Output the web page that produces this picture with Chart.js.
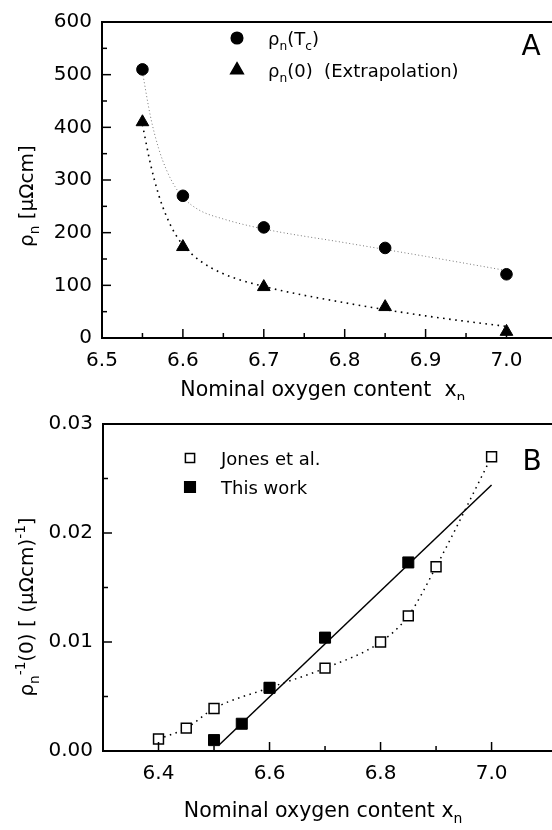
<!DOCTYPE html>
<html>
<head>
<meta charset="utf-8">
<script src="https://cdn.jsdelivr.net/npm/chart.js@4"></script>
<style>
  body { margin: 0; background: #fff; }
  canvas { position: absolute; left: 0; }
</style>
</head>
<body>
<canvas id="chartA" width="552" height="400" style="top:0"></canvas>
<canvas id="chartB" width="552" height="430" style="top:400px"></canvas>
<script>
const FONT = '"DejaVu Sans", sans-serif';

// panel A
const xA = [6.55, 6.6, 6.7, 6.85, 7.0];
const rhoTc = [510, 270, 210, 171, 121];
const rho0 = [410, 173, 97, 59, 12];
const fitX = [6.55, 6.56, 6.57, 6.58, 6.59, 6.6, 6.62, 6.65, 6.7, 6.8, 6.9, 7.0];
const fitTc = [505, 420, 360, 318, 288, 267, 243, 226, 207, 181, 155, 128];
const fit0 = [405, 330, 272, 230, 199, 177, 148, 122, 98, 67, 42, 22];
const xTicksA = [6.5, 6.6, 6.7, 6.8, 6.9, 7.0];
const xMinorA = [6.55, 6.65, 6.75, 6.85, 6.95];
const yTicksA = [0, 100, 200, 300, 400, 500, 600];
const yMinorA = [50, 150, 250, 350, 450, 550];

// panel B
const xJones = [6.4, 6.45, 6.5, 6.6, 6.7, 6.8, 6.85, 6.9, 7.0];
const jones = [0.0011, 0.0021, 0.0039, 0.0058, 0.0076, 0.0100, 0.0124, 0.0169, 0.0270];
const xThis = [6.5, 6.55, 6.6, 6.7, 6.85];
const thisWork = [0.0010, 0.0025, 0.0058, 0.0104, 0.0173];
const lineX = [6.51, 7.0];
const lineY = [0.0006, 0.0244];
const xTicksB = [6.4, 6.6, 6.8, 7.0];
const xMinorB = [6.5, 6.7, 6.9];
const yTicksB = [0, 0.01, 0.02, 0.03];
const yMinorB = [0.005, 0.015, 0.025];

const pts = (xs, ys) => xs.map((x, i) => ({ x: x, y: ys[i] }));

// text with sub/superscripts: parts = [[text, 'sub'|'sup'|undefined], ...]
function drawRich(ctx, parts, x, y, size, align) {
  const seg = parts.map(p => {
    const s = p[1] ? size * 0.68 : size;
    ctx.font = s + 'px ' + FONT;
    return { t: p[0], s: s, w: ctx.measureText(p[0]).width, dy: p[1] == 'sub' ? size * 0.28 : p[1] == 'sup' ? -size * 0.42 : 0 };
  });
  const total = seg.reduce((a, b) => a + b.w, 0);
  let cx = align == 'center' ? x - total / 2 : x;
  ctx.textAlign = 'left';
  ctx.textBaseline = 'alphabetic';
  seg.forEach(g => {
    ctx.font = g.s + 'px ' + FONT;
    ctx.fillText(g.t, cx, y + g.dy);
    cx += g.w;
  });
}

function marker(ctx, style, x, y, r, fill) {
  ctx.beginPath();
  if (style == 'circle') ctx.arc(x, y, r, 0, Math.PI * 2);
  else if (style == 'triangle') {
    ctx.moveTo(x, y - r);
    ctx.lineTo(x + r * 0.866, y + r * 0.5);
    ctx.lineTo(x - r * 0.866, y + r * 0.5);
    ctx.closePath();
  } else {
    const h = r * Math.SQRT1_2;
    ctx.rect(x - h, y - h, 2 * h, 2 * h);
  }
  ctx.fillStyle = fill;
  ctx.fill();
  ctx.lineWidth = 1.5;
  ctx.strokeStyle = '#000';
  ctx.stroke();
}

function deco(cfg) {
  return {
    id: 'deco',
    afterDraw(chart) {
      const ctx = chart.ctx, a = chart.chartArea, x = chart.scales.x, y = chart.scales.y;
      ctx.save();
      ctx.strokeStyle = '#000';
      ctx.lineWidth = 2;
      ctx.beginPath();
      ctx.moveTo(chart.width, a.top);
      ctx.lineTo(a.left, a.top);
      ctx.lineTo(a.left, a.bottom);
      ctx.lineTo(chart.width, a.bottom);
      ctx.stroke();

      ctx.lineWidth = 1.5;
      const xt = (vals, len) => vals.forEach(v => {
        const p = x.getPixelForValue(v);
        ctx.beginPath(); ctx.moveTo(p, a.bottom); ctx.lineTo(p, a.bottom - len); ctx.stroke();
      });
      const yt = (vals, len) => vals.forEach(v => {
        const p = y.getPixelForValue(v);
        ctx.beginPath(); ctx.moveTo(a.left, p); ctx.lineTo(a.left + len, p); ctx.stroke();
      });
      xt(cfg.xMajor, 9); xt(cfg.xMinor, 5);
      yt(cfg.yMajor, 9); yt(cfg.yMinor, 5);

      ctx.fillStyle = '#000';
      drawRich(ctx, cfg.xTitle, (a.left + a.right) / 2, cfg.xTitleY, 20.5, 'center');

      ctx.save();
      ctx.translate(cfg.yTitleX, cfg.yTitleY);
      ctx.rotate(-Math.PI / 2);
      ctx.fillStyle = '#000';
      drawRich(ctx, cfg.yTitle, 0, 0, 20, 'center');
      ctx.restore();

      cfg.legend.forEach(l => {
        marker(ctx, l.style, l.mx, l.y, l.r, l.fill);
        ctx.fillStyle = '#000';
        drawRich(ctx, l.text, l.tx, l.y + 7, 18, 'left');
      });

      ctx.fillStyle = '#000';
      ctx.font = '28px ' + FONT;
      ctx.textAlign = 'center';
      ctx.textBaseline = 'alphabetic';
      ctx.fillText(cfg.panel, cfg.panelX, cfg.panelY);
      ctx.restore();
    }
  };
}

function linAxis(min, max, ticks, size, fmt, pad) {
  return {
    type: 'linear', min: min, max: max,
    afterBuildTicks: ax => { ax.ticks = ticks.map(v => ({ value: v })); },
    afterFit: ax => { if (ax.isHorizontal()) ax.height = size; else ax.width = size; },
    grid: { display: false, drawTicks: false },
    border: { display: false },
    ticks: { color: '#000', font: { family: FONT, size: 20 }, padding: pad, autoSkip: false, maxRotation: 0, callback: fmt }
  };
}

const baseOpts = (padTop, xs, ys) => ({
  responsive: false,
  animation: false,
  layout: { padding: { top: padTop, left: 0, right: 0, bottom: 0 } },
  plugins: { legend: { display: false }, tooltip: { enabled: false } },
  scales: { x: xs, y: ys }
});

new Chart(document.getElementById('chartA'), {
  type: 'scatter',
  data: {
    datasets: [
      { data: pts(xA, rhoTc), pointStyle: 'circle', pointRadius: 5.8, backgroundColor: '#000', borderColor: '#000', order: 1 },
      { data: pts(xA, rho0), pointStyle: 'triangle', pointRadius: 7.3, backgroundColor: '#000', borderColor: '#000', order: 1 },
      { data: pts(fitX, fitTc), showLine: true, pointRadius: 0, borderColor: '#777', borderWidth: 1, borderDash: [1, 2.5], cubicInterpolationMode: 'monotone', order: 2 },
      { data: pts(fitX, fit0), showLine: true, pointRadius: 0, borderColor: '#000', borderWidth: 1.6, borderDash: [1.6, 4.5], cubicInterpolationMode: 'monotone', order: 2 }
    ]
  },
  options: baseOpts(15,
    linAxis(6.5, 7.046, xTicksA, 62, v => v.toFixed(1), 11),
    linAxis(0, 600, yTicksA, 102, v => String(v), 10)),
  plugins: [deco({
    xMajor: xTicksA, xMinor: xMinorA, yMajor: yTicksA, yMinor: yMinorA,
    xTitle: [['Nominal oxygen content  x'], ['n', 'sub']], xTitleY: 396,
    yTitle: [['ρ'], ['n', 'sub'], [' [μΩcm]']], yTitleX: 33, yTitleY: 196,
    legend: [
      { style: 'circle', mx: 237, r: 5.8, fill: '#000', tx: 268, y: 38, text: [['ρ'], ['n', 'sub'], ['(T'], ['c', 'sub'], [')']] },
      { style: 'triangle', mx: 237, r: 7.3, fill: '#000', tx: 268, y: 70, text: [['ρ'], ['n', 'sub'], ['(0)  (Extrapolation)']] }
    ],
    panel: 'A', panelX: 531, panelY: 55
  })]
});

new Chart(document.getElementById('chartB'), {
  type: 'scatter',
  data: {
    datasets: [
      { data: pts(xThis, thisWork), pointStyle: 'rect', pointRadius: 7.8, backgroundColor: '#000', borderColor: '#000', order: 1 },
      { data: pts(xJones, jones), pointStyle: 'rect', pointRadius: 7, backgroundColor: '#fff', borderColor: '#000', pointBorderWidth: 1.5,
        showLine: true, borderWidth: 1.5, borderDash: [1.5, 4.5], cubicInterpolationMode: 'monotone', order: 2 },
      { data: pts(lineX, lineY), showLine: true, pointRadius: 0, borderColor: '#000', borderWidth: 1.5, order: 3 }
    ]
  },
  options: baseOpts(24,
    linAxis(6.3, 7.093, xTicksB, 79, v => v.toFixed(1), 11),
    linAxis(0, 0.03, yTicksB, 103, v => v.toFixed(2), 10)),
  plugins: [deco({
    xMajor: xTicksB, xMinor: xMinorB, yMajor: yTicksB, yMinor: yMinorB,
    xTitle: [['Nominal oxygen content x'], ['n', 'sub']], xTitleY: 417,
    yTitle: [['ρ'], ['n', 'sub'], ['-1', 'sup'], ['(0) [ (μΩcm)'], ['-1', 'sup'], [']']], yTitleX: 33, yTitleY: 207,
    legend: [
      { style: 'rect', mx: 190, r: 6.5, fill: '#fff', tx: 221, y: 58, text: [['Jones et al.']] },
      { style: 'rect', mx: 190, r: 7.5, fill: '#000', tx: 221, y: 87, text: [['This work']] }
    ],
    panel: 'B', panelX: 532, panelY: 70
  })]
});
</script>
</body>
</html>
